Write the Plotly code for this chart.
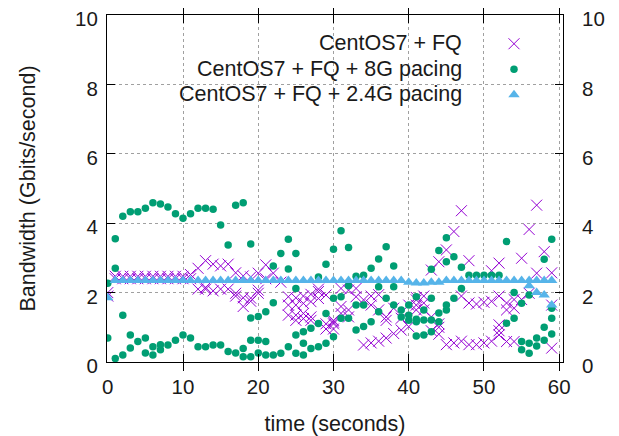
import plotly.graph_objects as go

# ---- data (time in seconds, bandwidth in Gbit/s) ----
series_names = ["CentOS7 + FQ", "CentOS7 + FQ + 8G pacing", "CentOS7 + FQ + 2.4G pacing"]

fq_t = [0, 0,
        1, 1, 2, 2, 3, 3, 4, 4, 5, 5, 6, 6, 7, 7, 8, 8, 9, 9, 10, 10, 11, 11,
        12, 12, 13, 13, 13, 14, 14, 15, 15, 16, 16, 17, 17, 17, 18, 18, 18, 19, 19, 19,
        20, 20, 20, 21, 21, 22, 23,
        24, 24, 24, 25, 25, 25, 25, 26, 26, 26, 26, 27, 27, 27, 27, 28, 28, 28,
        29, 29, 29, 30, 30, 30, 30, 31, 31, 31, 32, 32, 32, 33, 33, 34, 34,
        35, 35, 35, 36, 36, 36, 37, 37, 37, 38, 38, 39, 39, 40, 40,
        41, 41, 41, 41, 42, 42, 42, 43, 43, 43, 44, 44, 44, 44, 45, 45, 46, 46,
        47, 47, 47, 48, 48, 48, 49, 49, 50, 50, 51, 51, 51, 52, 52, 52, 52, 52,
        53, 53, 53, 54, 54, 54, 55, 55, 56, 56, 57, 57, 58, 59, 59, 59]
fq_bw = [1.9, 2.0,
         2.47, 2.4, 2.47, 2.4, 2.47, 2.4, 2.47, 2.4, 2.47, 2.4, 2.47, 2.4, 2.47, 2.4, 2.47, 2.4, 2.47, 2.4, 2.47, 2.4, 2.52, 2.4,
         2.7, 2.1, 2.92, 2.1, 2.15, 2.82, 2.05, 2.77, 2.1, 2.82, 2.1, 2.57, 1.98, 1.9, 2.48, 1.6, 1.85, 2.45, 1.84, 1.75,
         2.56, 2.07, 1.98, 2.8, 2.4, 2.56, 2.3,
         1.88, 1.64, 1.35, 1.85, 1.64, 1.35, 1.2, 1.9, 1.69, 1.4, 1.25, 1.95, 1.74, 1.3, 1.2, 2.1, 2.03, 1.83,
         1.93, 1.1, 0.95, 1.15, 1.1, 1.2, 0.95, 2.12, 1.6, 1.4, 2.07, 1.5, 1.3, 2.12, 1.88, 1.79, 0.49,
         1.9, 1.64, 0.55, 1.94, 1.5, 0.6, 1.3, 1.2, 0.69, 1.55, 0.82, 1.26, 0.92, 1.02, 1.64,
         1.64, 1.79, 1.86, 1.5, 1.9, 1.7, 1.5, 2.65, 1.3, 0.9, 2.89, 1.1, 1.0, 0.8, 3.23, 0.5, 3.76, 0.55,
         4.36, 1.9, 0.6, 2.92, 1.7, 0.5, 1.67, 0.5, 1.72, 0.55, 2.63, 1.75, 0.6, 2.85, 1.9, 1.07, 0.78, 0.9,
         1.7, 1.5, 0.59, 1.8, 1.55, 0.59, 2.99, 1.8, 3.82, 1.98, 4.52, 2.56, 3.18, 2.57, 1.64, 0.4]

pace8_t = [0, 0, 1, 1, 1, 2, 2, 2, 3, 3, 3, 4, 4, 5, 5, 5, 6, 6, 6, 7, 7, 7, 8, 8, 9, 9,
           10, 10, 11, 11, 12, 12, 13, 13, 14, 14, 15, 15, 16, 16, 17, 17, 18, 18, 18,
           19, 19, 19, 19, 20, 20, 20, 21, 21, 21, 22, 22, 22, 23, 23, 24, 24, 24,
           25, 25, 25, 25, 26, 26, 26, 27, 27, 28, 28, 28, 29, 29, 29, 30, 30, 30,
           31, 31, 31, 32, 32, 32, 33, 33, 33, 34, 34, 34, 35, 35, 36, 36, 36, 37, 37,
           38, 38, 38, 39, 39, 40, 40, 40, 41, 41, 41, 41, 42, 42, 42, 43, 43, 43, 43,
           44, 44, 44, 45, 45, 45, 45, 46, 46, 47, 47, 48, 49, 50, 51, 52,
           53, 53, 54, 54, 55, 55, 55, 56, 56, 56, 57, 57, 58, 58, 58, 59, 59, 59, 59]
pace8_bw = [2.27, 0.69, 3.55, 2.7, 0.1, 4.2, 1.35, 0.2, 4.33, 0.78, 0.4, 4.33, 0.59, 4.43, 0.69, 0.26,
            4.59, 0.44, 0.2, 4.55, 0.35, 0.5, 4.47, 0.49, 4.27, 0.63,
            4.14, 0.78, 4.27, 0.69, 4.43, 0.44, 4.43, 0.44, 4.4, 0.49, 3.95, 0.49, 3.37, 0.3, 4.52, 0.26,
            4.59, 0.39, 0.15,
            3.4, 1.27, 0.63, 0.15, 1.31, 0.63, 0.26, 1.45, 0.59, 0.2, 2.77, 1.71, 0.2, 3.13, 0.25,
            3.54, 2.68, 0.44,
            3.13, 2.12, 0.78, 0.25, 0.87, 0.54, 0.2, 0.97, 0.39, 2.45, 1.11, 0.44, 2.82, 1.4, 0.54,
            3.25, 1.84, 0.73,
            3.78, 1.88, 1.26, 3.3, 2.2, 1.26, 2.47, 1.64, 0.92, 2.5, 1.64, 1.02, 2.7, 1.16,
            2.97, 2.17, 1.45, 3.32, 1.84,
            2.77, 2.17, 1.64, 1.5, 1.3, 1.64, 1.35, 1.2, 1.88, 1.23, 0.75, 1.16, 1.5, 1.21, 0.78,
            2.67, 1.84, 1.21, 0.87,
            3.21, 1.41, 1.16, 3.58, 2.89, 1.64, 1.5, 3.03, 1.84, 2.73, 2.12, 2.5, 2.5, 2.5, 2.5, 2.5,
            3.47, 1.12, 2.0, 1.26, 1.69, 0.59, 0.35, 1.93, 0.54, 0.25, 0.69, 0.46, 2.96, 1.0, 0.63,
            3.54, 1.55, 1.26, 0.81]

pace24_t = [0] + list(range(1, 60)) + [56, 57, 58, 59]
pace24_bw = ([1.85] + [2.35] * 39 + [2.3, 2.28, 2.28, 2.3, 2.3] + [2.35] * 15
             + [2.2, 2.0, 1.93, 1.64])

x_ticks = [0, 10, 20, 30, 40, 50, 60]
y_ticks = [0, 2, 4, 6, 8, 10]

FONT = "Liberation Sans, Arial, sans-serif"
FS_TICK = 20.5
FS = 21.5
TXT = "#1a1a1a"

# the page adds an 8 px body margin, so the figure is 8 px smaller
W, H = 611, 428
L, R, T, B = 99, 56, 7, 74
PW, PH = W - L - R, H - T - B
IL, IB = L + 8, T + 8 + PH   # plot-area left / bottom in screen pixels

fig = go.Figure()
fig.add_trace(go.Scatter(
    x=fq_t, y=fq_bw, mode="markers", name=" ",
    marker=dict(symbol="x-thin", size=11, line=dict(color="#9400D3", width=1), color="#9400D3"),
    hoverinfo="skip"))
fig.add_trace(go.Scatter(
    x=pace8_t, y=pace8_bw, mode="markers", name=" ",
    marker=dict(symbol="circle", size=7.5, color="#009E73", line=dict(width=0)),
    hoverinfo="skip"))
fig.add_trace(go.Scatter(
    x=pace24_t, y=pace24_bw, mode="markers", name=" ",
    marker=dict(symbol="triangle-up", size=10, color="#56B4E9", line=dict(width=0)),
    hoverinfo="skip"))
fig.add_trace(go.Scatter(x=[], y=[], yaxis="y2", showlegend=False, hoverinfo="skip"))

axis_common = dict(
    showline=True, linecolor="black", linewidth=1,
    ticks="inside", ticklen=8, tickcolor="black", tickwidth=1,
    showgrid=True, gridcolor="#a0a0a0", griddash="dot", gridwidth=1,
    zeroline=False, automargin=False, ticklabeloverflow="allow",
    tickfont=dict(family=FONT, size=FS_TICK, color=TXT),
)

fig.update_layout(
    width=W, height=H,
    margin=dict(l=L, r=R, t=T, b=B),
    paper_bgcolor="white", plot_bgcolor="white",
    font=dict(family=FONT, size=FS, color=TXT),
    xaxis=dict(range=[-0.1, 60.5], tickvals=x_ticks, mirror="allticks", ticklabelstandoff=6,
               title=dict(text="time (seconds)", standoff=21, font=dict(family=FONT, size=FS, color=TXT)),
               **axis_common),
    yaxis=dict(range=[0, 10], tickvals=y_ticks, mirror="allticks", ticklabelstandoff=4,
               ticklabelshift=4,
               title=dict(text="Bandwidth (Gbits/second)", standoff=33, font=dict(family=FONT, size=FS, color=TXT)),
               **axis_common),
    yaxis2=dict(range=[0, 10], tickvals=y_ticks, overlaying="y", side="right",
                showgrid=False, showline=False, ticks="", zeroline=False, automargin=False,
                ticklabelstandoff=18, ticklabeloverflow="allow", ticklabelshift=4,
                tickfont=dict(family=FONT, size=FS_TICK, color=TXT)),
    showlegend=True,
    legend=dict(x=(494 - IL) / PW, xanchor="left", y=(IB - 26) / PH, yanchor="top",
                bgcolor="rgba(0,0,0,0)", font=dict(family=FONT, size=17.3),
                itemsizing="trace", tracegroupgap=0),
)

legend_y_px = [43, 69, 94]
for name, ypx in zip(series_names, legend_y_px):
    fig.add_annotation(text=name, xref="paper", yref="paper",
                       x=(464 - IL) / PW, y=(IB - ypx) / PH,
                       xanchor="right", yanchor="middle", showarrow=False,
                       font=dict(family=FONT, size=FS, color=TXT))

fig.write_html("out.html")
